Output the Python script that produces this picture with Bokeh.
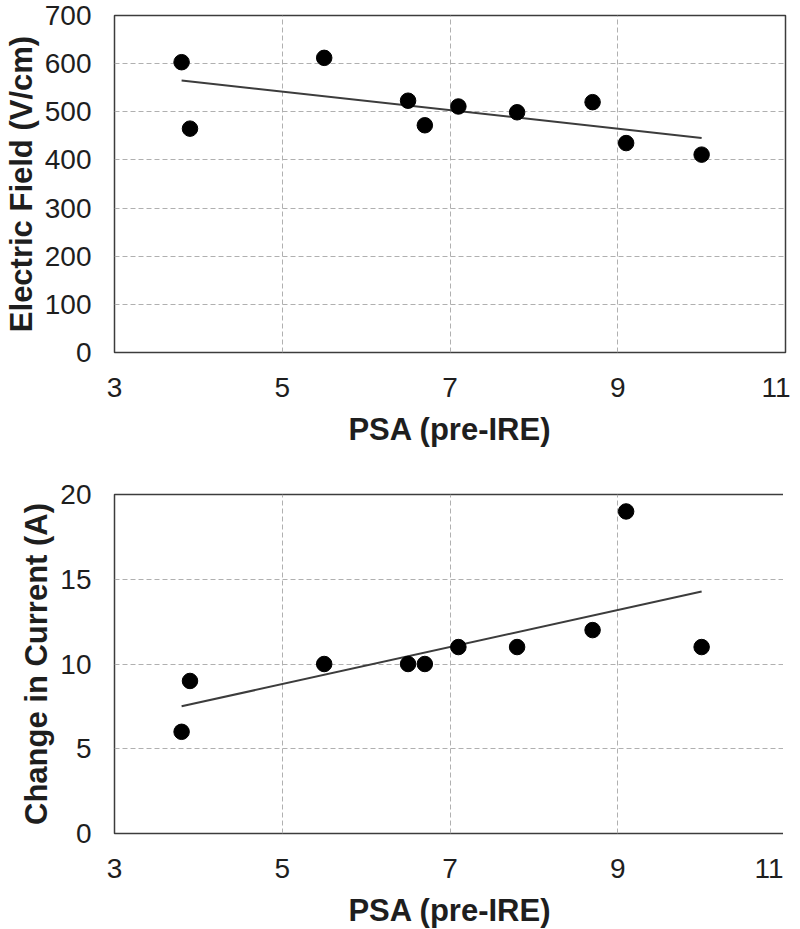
import numpy as np
from bokeh.plotting import figure
from bokeh.layouts import column
from bokeh.models import FixedTicker, Range1d
from bokeh.embed import file_html
from bokeh.resources import INLINE

# ---- data ----
psa = [3.8, 3.9, 5.5, 6.5, 6.7, 7.1, 7.8, 8.7, 9.1, 10.0]
electric_field = [603, 465, 612, 523, 472, 511, 499, 520, 435, 411]
current_change = [6, 9, 10, 10, 10, 11, 11, 12, 19, 11]

x_ticks = [3, 5, 7, 9, 11]
ef_ticks = [0, 100, 200, 300, 400, 500, 600, 700]
cur_ticks = [0, 5, 10, 15, 20]

x_title = "PSA (pre-IRE)"
ef_title = "Electric Field (V/cm)"
cur_title = "Change in Current (A)"

FONT = "Liberation Sans"


def make_panel(yvals, yticks, ytitle, frame_h, border_top, border_bottom):
    p = figure(frame_width=671, frame_height=frame_h,
               x_range=Range1d(x_ticks[0], x_ticks[-1]),
               y_range=Range1d(yticks[0], yticks[-1]),
               output_backend="svg", toolbar_location=None,
               min_border_left=107, min_border_right=5,
               min_border_top=border_top, min_border_bottom=border_bottom)
    p.background_fill_color = "white"
    p.border_fill_color = "white"
    p.outline_line_color = "#3c3c3c"
    p.outline_line_width = 1.5

    for ax, ticks in ((p.xaxis, x_ticks), (p.yaxis, yticks)):
        ax.ticker = FixedTicker(ticks=ticks)
        ax.major_tick_out = 0
        ax.major_tick_in = 0
        ax.minor_tick_out = 0
        ax.minor_tick_in = 0
        ax.axis_line_color = None
        ax.major_label_text_font = FONT
        ax.major_label_text_font_size = "28px"
        ax.major_label_text_color = "#1e1e1e"
        ax.axis_label_text_font = FONT
        ax.axis_label_text_font_size = "31px"
        ax.axis_label_text_font_style = "bold"
        ax.axis_label_text_color = "#1e1e1e"

    p.xaxis.axis_label = x_title
    p.xaxis.major_label_standoff = 25
    p.xaxis.axis_label_standoff = 12
    p.yaxis.axis_label = ytitle
    p.yaxis.major_label_standoff = 23
    p.yaxis.axis_label_standoff = 3

    p.xgrid.ticker = FixedTicker(ticks=x_ticks)
    p.ygrid.ticker = FixedTicker(ticks=yticks)
    for g in (p.xgrid, p.ygrid):
        g.grid_line_color = "#b0b0b0"
        g.grid_line_dash = "5 3"
        g.grid_line_width = 1

    coef = np.polyfit(psa, yvals, 1)
    xs = [min(psa), max(psa)]
    ys = list(np.polyval(coef, xs))
    p.line(xs, ys, line_color="#3c3c3c", line_width=2)
    p.scatter(psa, yvals, size=15.5, fill_color="black", line_color="black")
    return p


top = make_panel(electric_field, ef_ticks, ef_title, 337, 15, 108)
bottom = make_panel(current_change, cur_ticks, cur_title, 339, 34, 94)

layout = column(top, bottom, spacing=0)
open("out.html", "w").write(file_html(layout, INLINE))
